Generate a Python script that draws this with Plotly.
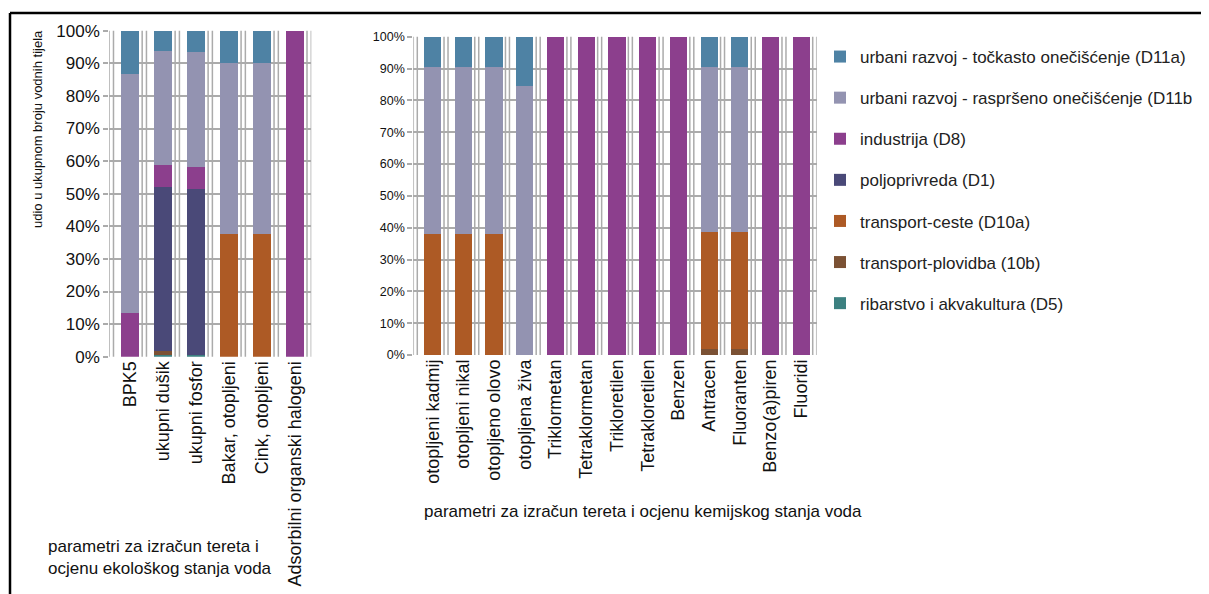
import plotly.graph_objects as go

# ---------------- data ----------------
categories_eko = ["BPK5", "ukupni dušik", "ukupni fosfor", "Bakar, otopljeni",
                  "Cink, otopljeni", "Adsorbilni organski halogeni"]
categories_kem = ["otopljeni kadmij", "otopljeni nikal", "otopljeno olovo", "otopljena živa",
                  "Triklormetan", "Tetraklormetan", "Trikloretilen", "Tetrakloretilen",
                  "Benzen", "Antracen", "Fluoranten", "Benzo(a)piren", "Fluoridi"]

series_names = ["ribarstvo i akvakultura (D5)", "transport-plovidba (10b)", "transport-ceste (D10a)",
                "poljoprivreda (D1)", "industrija (D8)",
                "urbani razvoj - raspršeno onečišćenje (D11b",
                "urbani razvoj - točkasto onečišćenje (D11a)"]
series_colors = ["#3C8080", "#7B5134", "#AD5A25", "#4A4978", "#8C3F8D", "#9393B1", "#4E82A4"]

# values in % (stack order bottom -> top)
eko_D5 = [0, 0.6, 0.5, 0, 0, 0]
eko_D10b = [0, 1.0, 0, 0, 0, 0]
eko_D10a = [0, 0, 0, 37.5, 37.5, 0]
eko_D1 = [0, 50.5, 51.0, 0, 0, 0]
eko_D8 = [13.5, 6.6, 6.8, 0, 0, 100]
eko_D11b = [73.1, 35.1, 35.3, 52.7, 52.7, 0]
eko_D11a = [13.4, 6.2, 6.4, 9.8, 9.8, 0]

kem_D5 = [0] * 13
kem_D10b = [0, 0, 0, 0, 0, 0, 0, 0, 0, 1.8, 1.8, 0, 0]
kem_D10a = [37.9, 37.9, 37.9, 0, 0, 0, 0, 0, 0, 36.9, 36.9, 0, 0]
kem_D1 = [0] * 13
kem_D8 = [0, 0, 0, 0, 100, 100, 100, 100, 100, 0, 0, 100, 100]
kem_D11b = [52.5, 52.5, 52.5, 84.6, 0, 0, 0, 0, 0, 51.9, 51.9, 0, 0]
kem_D11a = [9.6, 9.6, 9.6, 15.4, 0, 0, 0, 0, 0, 9.4, 9.4, 0, 0]

eko_series = [eko_D5, eko_D10b, eko_D10a, eko_D1, eko_D8, eko_D11b, eko_D11a]
kem_series = [kem_D5, kem_D10b, kem_D10a, kem_D1, kem_D8, kem_D11b, kem_D11a]

y_tick_values = [0, 10, 20, 30, 40, 50, 60, 70, 80, 90, 100]
y_tick_labels = ["0%", "10%", "20%", "30%", "40%", "50%", "60%", "70%", "80%", "90%", "100%"]

left_x_title = "parametri za izračun tereta i<br>ocjenu ekološkog stanja voda"
right_x_title = "parametri za izračun tereta i ocjenu kemijskog stanja voda"
y_title = "udio u ukupnom broju vodnih tijela"

# ---------------- figure ----------------
PAGE_W, PAGE_H = 1209, 594
OFS = 8                      # default body margin of the html page
FW, FH = PAGE_W - OFS, PAGE_H - OFS
FONT = "Liberation Sans, Arial, sans-serif"
GRID = "#ABABAB"

fig = go.Figure()
for i, name in enumerate(series_names):
    rank = len(series_names) - i
    fig.add_trace(go.Bar(x=categories_eko, y=eko_series[i], name=name,
                         marker=dict(color=series_colors[i], line=dict(width=0)),
                         legendgroup=name, legendrank=rank, showlegend=True,
                         xaxis="x", yaxis="y"))
    fig.add_trace(go.Bar(x=categories_kem, y=kem_series[i], name=name,
                         marker=dict(color=series_colors[i], line=dict(width=0)),
                         legendgroup=name, legendrank=rank, showlegend=False,
                         xaxis="x2", yaxis="y2"))


def px_x(p):
    return (p - OFS) / FW


def px_y(p):
    return (OFS + FH - p) / FH


OFF = 0.13
n1, n2 = len(categories_eko), len(categories_kem)

common_y = dict(range=[0, 100], tickmode="array", tickvals=y_tick_values, ticktext=y_tick_labels,
                showgrid=True, gridcolor=GRID, gridwidth=1.5, zeroline=False, showline=False,
                ticks="outside", ticklen=5, tickcolor=GRID, tickwidth=1.5,
                automargin=False, fixedrange=True)
common_x = dict(type="category", showgrid=False, showline=False, zeroline=False,
                tickangle=-90, tickfont=dict(family=FONT, size=18, color="#111"),
                ticks="", automargin=False, fixedrange=True)

fig.update_layout(
    width=FW, height=FH,
    margin=dict(l=0, r=0, t=0, b=0, autoexpand=False),
    paper_bgcolor="white", plot_bgcolor="white",
    barmode="stack", bargap=0.44,
    xaxis=dict(domain=[px_x(109.2), px_x(311.3)], range=[-0.5 - OFF, n1 - 0.5],
               anchor="y", **common_x),
    yaxis=dict(domain=[px_y(356.7), px_y(30.7)], anchor="x",
               tickfont=dict(family=FONT, size=17, color="#111"), **common_y),
    xaxis2=dict(domain=[px_x(413.3), px_x(816.7)], range=[-0.5 - OFF, n2 - 0.5],
                anchor="y2", **common_x),
    yaxis2=dict(domain=[px_y(355), px_y(36.7)], anchor="x2",
                tickfont=dict(family=FONT, size=12.5, color="#111"), **common_y),
    legend=dict(x=px_x(820), y=px_y(39), xanchor="left", yanchor="top",
                traceorder="grouped", tracegroupgap=16,
                font=dict(family=FONT, size=17, color="#222"),
                bgcolor="rgba(0,0,0,0)", itemclick=False, itemdoubleclick=False),
    showlegend=True,
)

shapes = []
# vertical double gridlines at category boundaries
for xr, yr, n in (("x", "y domain", n1), ("x2", "y2 domain", n2)):
    for k in range(n + 1):
        b = k - 0.5
        for pos in (b - OFF, b):
            shapes.append(dict(type="line", xref=xr, yref=yr, x0=pos, x1=pos, y0=0, y1=1,
                               line=dict(color=GRID, width=1.5), layer="below"))
# outer black frame (top + left)
shapes.append(dict(type="line", xref="paper", yref="paper", x0=px_x(10), x1=1,
                   y0=px_y(13), y1=px_y(13), line=dict(color="black", width=2.5)))
shapes.append(dict(type="line", xref="paper", yref="paper", x0=px_x(10), x1=px_x(10),
                   y0=0, y1=px_y(13), line=dict(color="black", width=2.5)))
fig.update_layout(shapes=shapes)

fig.add_annotation(text=y_title, xref="paper", yref="paper", x=px_x(38), y=px_y(129),
                   textangle=-90, showarrow=False, xanchor="center", yanchor="middle",
                   font=dict(family=FONT, size=13, color="#111"))
fig.add_annotation(text=left_x_title, xref="paper", yref="paper", x=px_x(46), y=px_y(557),
                   showarrow=False, xanchor="left", yanchor="middle", align="left",
                   font=dict(family=FONT, size=17, color="#111"))
fig.add_annotation(text=right_x_title, xref="paper", yref="paper", x=px_x(422), y=px_y(511),
                   showarrow=False, xanchor="left", yanchor="middle", align="left",
                   font=dict(family=FONT, size=17, color="#111"))

fig.write_html("out.html")
